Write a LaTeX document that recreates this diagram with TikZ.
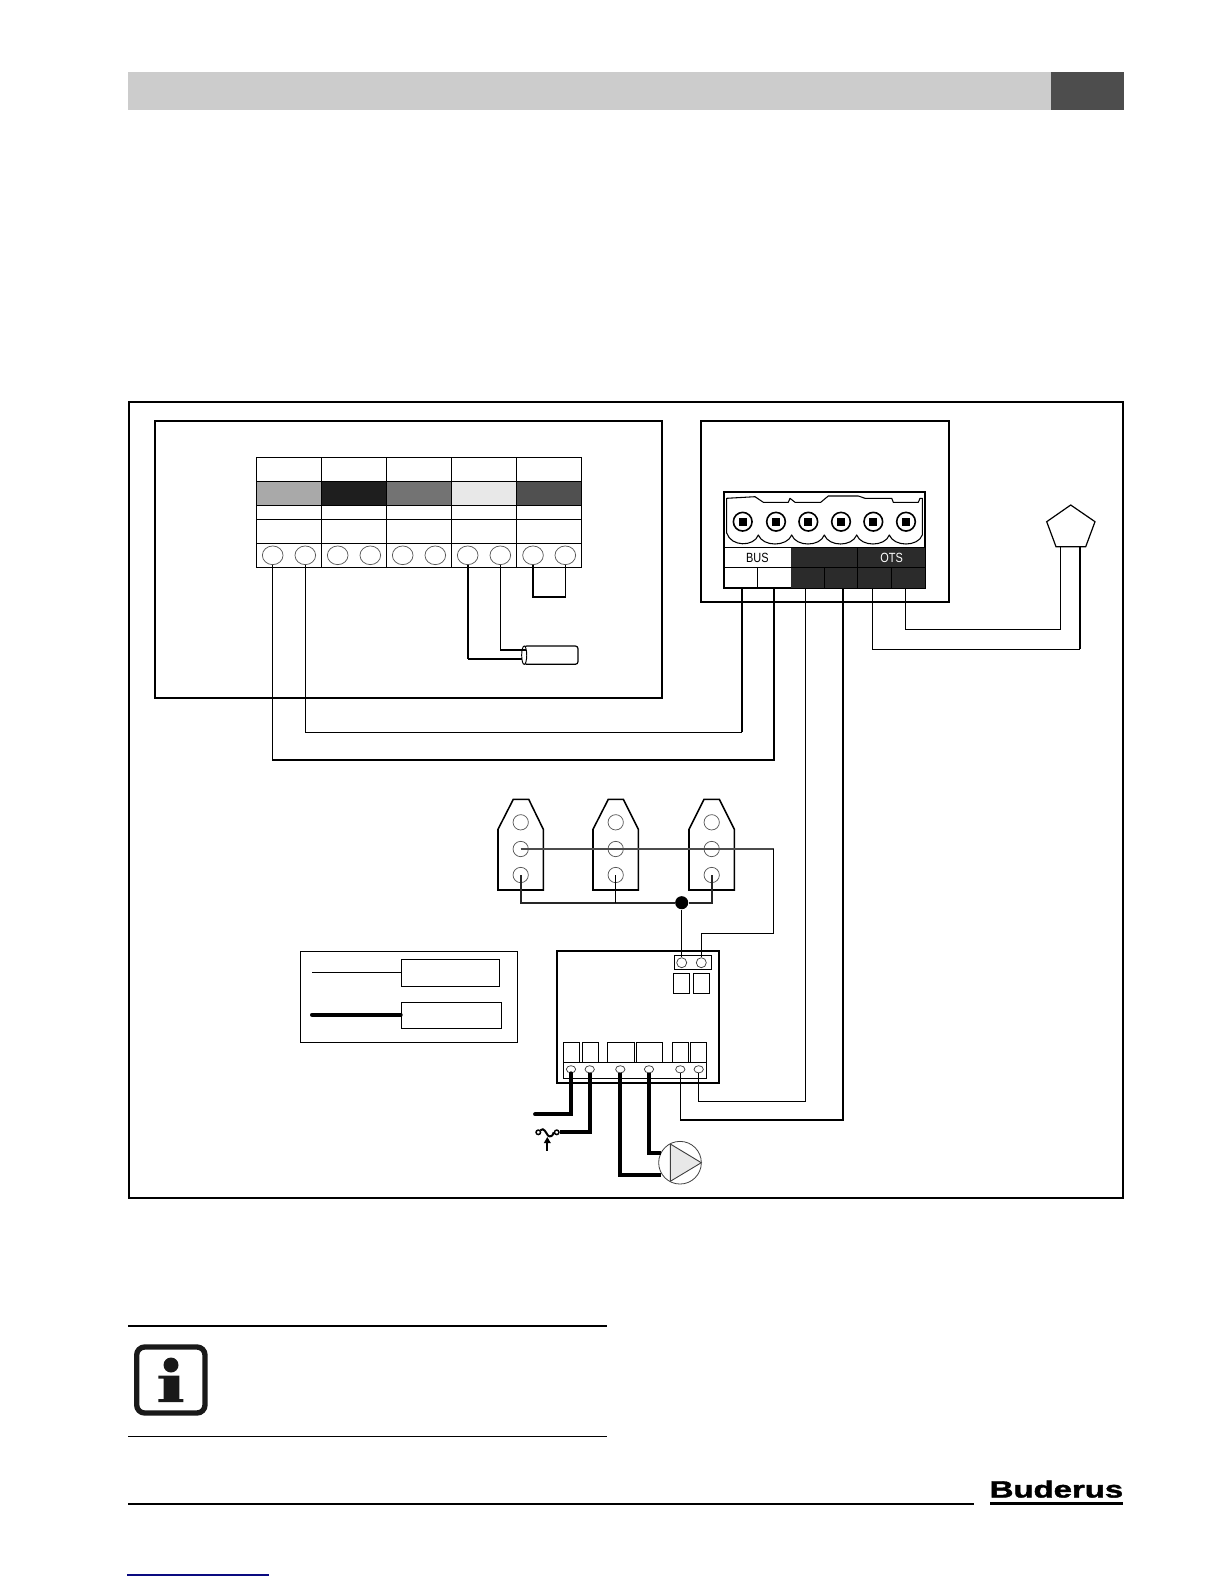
\documentclass[tikz,border=0pt]{standalone}
\usepackage{fontspec}
\setmainfont{Liberation Sans}
\newfontfamily\narrowlabel[FakeStretch=0.82]{Liberation Sans}
\newfontfamily\logofont[FakeBold=1.5]{Liberation Sans Bold}
\usetikzlibrary{shapes.geometric}
\definecolor{barlight}{HTML}{CCCCCC}
\definecolor{bardark}{HTML}{4D4D4D}
\definecolor{cellA}{HTML}{A9A9A9}
\definecolor{cellB}{HTML}{1E1E1E}
\definecolor{cellC}{HTML}{737373}
\definecolor{cellD}{HTML}{E8E8E8}
\definecolor{cellE}{HTML}{505050}
\definecolor{termdark}{HTML}{2B2B2B}
\definecolor{linkblue}{HTML}{0A0A80}
\tikzset{
  frame/.style={draw=black,line width=1.4pt},
  tablecell/.style={draw=black,line width=1pt},
  thinwire/.style={draw=black,line width=0.85pt,line join=miter},
  midwire/.style={draw=black,line width=1.2pt,line join=miter},
  heavywire/.style={draw=black,line width=2.9pt,line join=miter},
  clamp/.style={ellipse,draw=black!65,line width=0.55pt,fill=white,inner sep=0pt,minimum width=15.5pt,minimum height=14pt},
  tagpin/.style={circle,draw=black!65,line width=0.55pt,inner sep=0pt,minimum size=11.5pt},
  modpin/.style={circle,draw=black!75,line width=0.55pt,fill=white,inner sep=0pt,minimum size=7.5pt},
  stripin/.style={ellipse,draw=black!75,line width=0.55pt,fill=white,inner sep=0pt,minimum width=7pt,minimum height=5.4pt},
  swring/.style={circle,draw=black,line width=1.1pt,fill=white,inner sep=0pt,minimum size=3.4pt},
  screwring/.style={circle,draw=black,line width=1.2pt,fill=white,inner sep=0pt,minimum size=14pt},
  thinbox/.style={draw=black,line width=0.9pt},
  cellbox/.style={draw=black,line width=0.8pt},
}
\begin{document}
\begin{tikzpicture}[x=0.75pt,y=-0.75pt]
\useasboundingbox (0,0) rectangle (1224,1584);
% header bar
\fill[barlight] (128,72) rectangle (1050.7,110);
\fill[bardark] (1050.7,72) rectangle (1124,110);
% frames
\draw[frame] (128.7,402) rectangle (1122.7,1198.3);
\draw[frame] (154.7,421) rectangle (662.3,697.7);
\draw[frame] (701,421) rectangle (949.3,601.7);
% colour table
\fill[cellA] (256.3,481.3) rectangle (321.3,505.3);
\fill[cellB] (321.3,481.3) rectangle (386.3,505.3);
\fill[cellC] (386.3,481.3) rectangle (451.3,505.3);
\fill[cellD] (451.3,481.3) rectangle (516.3,505.3);
\fill[cellE] (516.3,481.3) rectangle (581.7,505.3);
\draw[tablecell] (256.3,457.3) rectangle (581.7,567.3);
\foreach \yy in {481.3,505.3,519.3,543.3}{\draw[tablecell] (256.3,\yy) -- (581.7,\yy);}
\foreach \xx in {321.3,386.3,451.3,516.3}{\draw[tablecell] (\xx,457.3) -- (\xx,567.3);}
\foreach \nm/\xx in {c1/272.7,c2/305.3,c3/337.7,c4/370.3,c5/402.7,c6/435.3,c7/467.7,c8/500.3,c9/533,c10/565.3}{
  \node[clamp] (\nm) at (\xx,555.3) {};
}
% sensor
\draw[draw=black,line width=0.9pt,fill=white,rounded corners=2pt] (524,646) -- (578,646) -- (578,664.3) -- (524,664.3) -- cycle;
\node[ellipse,draw=black,line width=0.7pt,inner sep=0pt,minimum width=3.8pt,minimum height=13.8pt,fill=white] (sensor) at (524.2,655.2) {};
\coordinate (sensA) at (522,659);
\coordinate (sensB) at (526,650);
% jumper and sensor wires
\coordinate (jump) at (0,597);
\draw[midwire,line width=1.7pt] (c9.south) -- (c9.south |- jump) -- (549,597);
\draw[thinwire,line width=1pt] (549,597) -- (c10.south |- jump) -- (c10.south);
\draw[midwire,line width=1.7pt] (c7.south) -- (c7.south |- sensA);
\draw[thinwire,line width=1pt] (c7.south |- sensA) -- (sensA);
\draw[thinwire,line width=1pt] (c8.south) -- (c8.south |- sensB);
\draw[midwire,line width=1.7pt] (c8.south |- sensB) -- (sensB);
% plug connector
\draw[draw=black,line width=1.5pt,fill=white] (723.7,491.7) rectangle (925.3,588);
\fill[termdark] (790.7,547.7) rectangle (925.3,588);
\draw[draw=black,line width=1pt] (723.7,547.7) -- (925.3,547.7);
\draw[draw=black,line width=1pt] (723.7,567.7) -- (925.3,567.7);
\draw[draw=black,line width=1pt] (757.3,567.7) -- (757.3,588);
\draw[draw=black,line width=0.8pt] (824.3,567.7) -- (824.3,588);
\draw[draw=black,line width=0.8pt] (891.7,567.7) -- (891.7,588);
\draw[draw=black,line width=0.8pt] (857.5,547.7) -- (857.5,588);
\draw[draw=black,line width=0.8pt,fill=white,line join=round] (726.7,498.3) -- (755,496.7) -- (763.3,502.3) -- (788.3,502.3) -- (790,498.3) -- (795,502.3) -- (820.7,502.3) -- (828.3,496) -- (858.3,496) -- (865,498.3) -- (891.7,498.3) -- (893.3,502.3) -- (918.3,502.3) -- (920,498.3) -- (922.3,498.3) -- (922.3,535)
  .. controls (918,547) and (894,547) .. (889.3,535)
  .. controls (885,547) and (861,547) .. (856.7,535)
  .. controls (852,547) and (829,547) .. (824.3,535)
  .. controls (820,547) and (796,547) .. (791.7,535)
  .. controls (787,547) and (763,547) .. (758.3,535)
  .. controls (754,547) and (731,547) .. (726.7,533) -- cycle;
\foreach \nm/\xx in {s1/742.7,s2/776,s3/808.3,s4/841,s5/873.3,s6/906}{
  \node[screwring] (\nm) at (\xx,521.7) {};
  \fill[black] (\xx-4,517.7) rectangle (\xx+4,525.7);
}
\node[inner sep=0pt,text=black,font=\narrowlabel\fontsize{10}{12}\selectfont] (busl) at (757.3,557.7) {BUS};
\node[inner sep=0pt,text=white,font=\narrowlabel\fontsize{10}{12}\selectfont] (otsl) at (891.7,557.7) {OTS};
\coordinate (p1) at (742,588);
\coordinate (p2) at (774,588);
\coordinate (p3) at (805.3,588);
\coordinate (p4) at (843,588);
\coordinate (p5) at (872.3,588);
\coordinate (p6) at (905.7,588);
% pentagon sensor
\draw[draw=black,line width=0.9pt,line join=miter] (1070.7,505) -- (1095,521.7) -- (1085.7,546.7) -- (1056,546.7) -- (1046.7,521.7) -- cycle;
\coordinate (pentA) at (1060.7,546.7);
\coordinate (pentB) at (1080,546.7);
\draw[thinwire] (p6) -- (905.7,629.3) -- (pentA |- 0,629.3) -- (pentA);
\draw[thinwire] (p5) -- (872.3,649.3) -- (pentB |- 0,649.3);
\draw[midwire] (pentB) -- (pentB |- 0,649.3);
% bus wires
\draw[midwire] (p1) -- (742,732.4);
\draw[thinwire] (742,732.4) -- (c2.south |- 0,732.4) -- (c2.south);
\draw[thinwire] (p2) -- (774,760) -- (c1.south |- 0,760) -- (c1.south);
% tags
\foreach \nm/\a/\b/\c/\d in {t1/498/513.3/528.7/543.3,t2/593/608.3/623.3/638.3,t3/689/704/719.3/734.3}{
  \draw[draw=black,line width=1.15pt,line join=miter] (\a,829.3) -- (\b,799.3) -- (\c,799.3) -- (\d,829.3) -- (\d,890) -- (\a,890) -- cycle;
}
\foreach \nm/\xx in {a/520.7,b/615.7,c/711.7}{
  \node[tagpin] (\nm1) at (\xx,822.3) {};
  \node[tagpin] (\nm2) at (\xx,849) {};
  \node[tagpin] (\nm3) at (\xx,875) {};
}
% module
\draw[draw=black,line width=1.5pt] (557,951) rectangle (719,1082.7);
\draw[thinbox] (674.7,955.7) rectangle (711.3,969.7);
\node[modpin] (m1) at (681.7,962.7) {};
\node[modpin] (m2) at (701.3,962.7) {};
\draw[thinbox] (673.3,973.3) rectangle (689.7,993.3);
\draw[thinbox] (693.3,973.3) rectangle (709.7,993.3);
\foreach \a/\b in {563.3/579.3,582.3/598.7,607.3/634.3,636.3/662.7,672.3/688.7,690.3/706.7}{
  \draw[cellbox] (\a,1042.3) rectangle (\b,1062.7);
}
\draw[thinbox] (563.3,1062.7) rectangle (706.7,1078.7);
% junction and tag wires
\node[circle,fill=black,inner sep=0pt,minimum size=9.8pt] (junc) at (681.7,902.7) {};
\draw[midwire,draw=black!85] (a3.center) -- (a3.center |- junc) -- (junc);
\draw[midwire,draw=black!85] (junc) -- (c3.center |- junc) -- (c3.center);
\draw[thinwire] (b3.center) -- (b3.center |- junc);
\draw[thinwire] (junc) -- (m1.north);
\coordinate (upturn) at (773.7,933.3);
\draw[midwire,draw=black!70] (a2.center) -- (upturn |- a2.center);
\draw[thinwire] (upturn |- a2.center) -- (upturn) -- (m2.north |- upturn) -- (m2.north);
% legend
\draw[thinbox] (300.3,951.7) rectangle (517.7,1042.3);
\node[thinbox,inner sep=0pt,minimum width=73.8pt,minimum height=20.25pt] (lg1) at (450.5,972.8) {};
\node[thinbox,inner sep=0pt,minimum width=75.3pt,minimum height=19.5pt] (lg2) at (451.5,1015.3) {};
\coordinate (lgs1) at (312,972.3);
\coordinate (lgs2) at (312,1014.7);
\draw[thinwire] (lgs1) -- (lgs1 -| lg1.west);
\draw[draw=black,line width=3pt,line cap=round] (lgs2) -- (lgs2 -| lg2.west);
% module strip pins
\foreach \nm/\xx in {r1/571,r2/589.7,r3/620.3,r4/649,r5/680.3,r6/698.7}{
  \node[stripin] (\nm) at (\xx,1069.3) {};
}
% switch
\node[swring] (sw1) at (538.3,1132.3) {};
\node[swring] (sw2) at (556.7,1132.3) {};
\draw[draw=black,line width=1.5pt] (sw1.north east) .. controls (544,1127) and (546,1133) .. (548,1135.5) .. controls (550,1137.5) and (553,1136) .. (sw2.west);
\draw[draw=black,line width=1.4pt] (547.3,1150.7) -- (547.3,1141);
\fill[black] (547.3,1137) -- (543.8,1143) -- (550.8,1143) -- cycle;
% pump
\node[circle,draw=black!75,line width=0.6pt,inner sep=0pt,minimum size=32pt] (pump) at (680,1162.7) {};
\draw[draw=black!75,line width=0.7pt,fill=cellD,line join=miter] (670.3,1144) -- (701.3,1162.7) -- (670.3,1181.3) -- cycle;
% heavy wires
\coordinate (w1) at (535,1114.3);
\draw[heavywire,line cap=round] (r1.south) -- (r1.south |- w1) -- (w1);
\draw[heavywire] (r2.south) -- (r2.south |- sw2) -- (sw2.east);
\coordinate (w3) at (660.5,1174.7);
\coordinate (w4) at (660.5,1153.3);
\draw[heavywire] (r3.south) -- (r3.south |- w3) -- (w3);
\draw[heavywire] (r4.south) -- (r4.south |- w4) -- (w4);
% signal wires
\draw[thinwire] (r6.south) -- (r6.south |- 0,1101.7) -- (p3 |- 0,1101.7) -- (p3);
\draw[midwire] (r5.south) -- (r5.south |- 0,1120) -- (p4 |- 0,1120) -- (p4);
% info box
\draw[draw=black,line width=0.85pt] (128,1326) -- (607,1326);
\draw[draw=black,line width=0.85pt] (128,1436.3) -- (607,1436.3);
\draw[draw=black!90,line width=4pt,rounded corners=6pt] (136.7,1347) rectangle (205,1413);
\fill[black!90] (171,1365) circle[radius=7.5];
\fill[black!90] (158.3,1375.7) -- (179.3,1375.7) -- (179.3,1399) -- (183.3,1399) -- (183.3,1402) -- (158.3,1402) -- (158.3,1399) -- (163.7,1399) -- (163.7,1378.5) -- (158.3,1378.5) -- cycle;
% footer
\draw[draw=black,line width=0.85pt] (128,1504) -- (974,1504);
\node[anchor=south west,inner sep=0pt] (logo) at (989.5,1498) {\resizebox{100pt}{12.8pt}{\logofont Buderus}};
\draw[draw=black,line width=1.8pt] (990,1503.5) -- (1122.5,1503.5);
\draw[draw=linkblue,line width=0.9pt] (127,1575) -- (269,1575);
\end{tikzpicture}
\end{document}
